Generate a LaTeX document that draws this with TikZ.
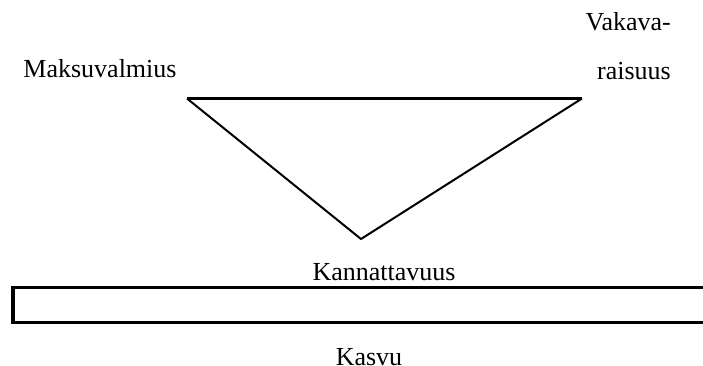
\documentclass[tikz,border=0pt]{standalone}
\usepackage{fontspec}
\setmainfont{Liberation Serif}
\begin{document}
\begin{tikzpicture}[x=1pt,y=-1pt,
  lbl/.style={inner sep=0pt,font=\fontsize{26}{30}\selectfont},
  thick line/.style={line width=3.2pt},
  thin line/.style={line width=2pt}]
\useasboundingbox (0,0) rectangle (703,365);
\coordinate (tl) at (187,98.5);
\coordinate (tr) at (582,98.5);
\coordinate (bt) at (361,239);
\draw[thin line, line join=miter] (tl) -- (bt) -- (tr);
\draw[thick line, line cap=butt] (tl) -- (tr);
\node[lbl,anchor=base] (maks) at (100,77) {Maksuvalmius};
\node[lbl,anchor=base east] (vak1) at (671,30) {Vakava-};
\node[lbl,anchor=base east] (vak2) at (671,79) {raisuus};
\node[lbl,anchor=base] (kann) at (384,280) {Kannattavuus};
\coordinate (rl) at (13,287.5);
\coordinate (rr) at (740,322.5);
\draw[line width=3.3pt] (rl) rectangle (rr);
\node[lbl,anchor=base] (kasvu) at (369,365) {Kasvu};
\end{tikzpicture}
\end{document}
